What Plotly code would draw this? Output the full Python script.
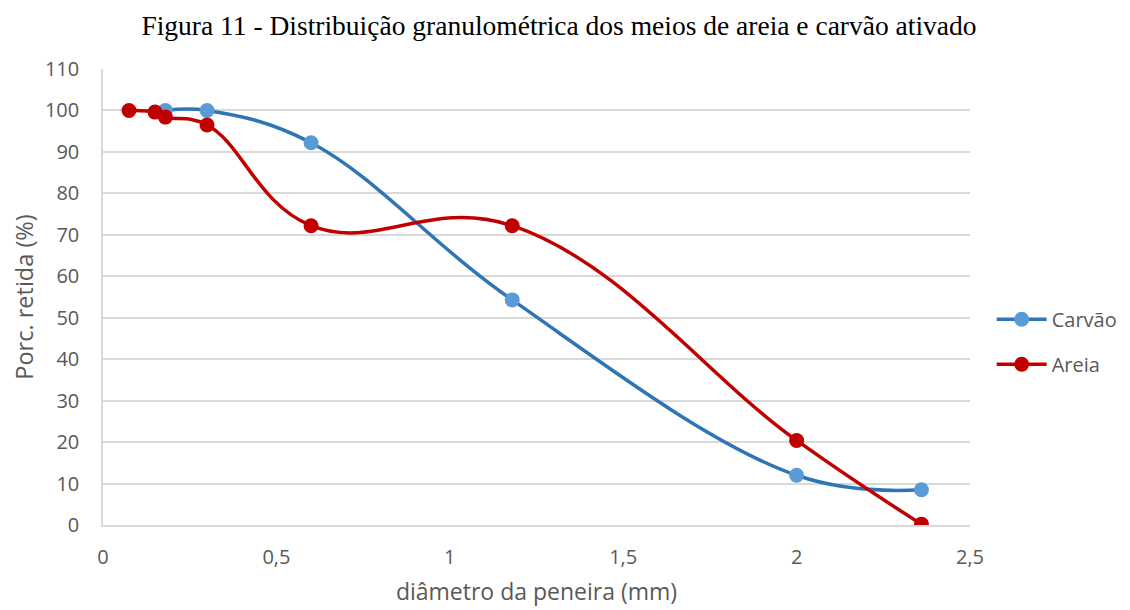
import plotly.graph_objects as go

carvao_x = [0.18, 0.30, 0.60, 1.18, 2.00, 2.36]
carvao_y = [100, 100, 92.2, 54.3, 12.0, 8.5]
areia_x = [0.075, 0.15, 0.18, 0.30, 0.60, 1.18, 2.00, 2.36]
areia_y = [100, 99.6, 98.4, 96.5, 72.2, 72.2, 20.4, 0.2]

x_ticks = [0, 0.5, 1, 1.5, 2, 2.5]
x_labels = ["0", "0,5", "1", "1,5", "2", "2,5"]
y_ticks = list(range(0, 111, 10))

fig = go.Figure()
fig.add_trace(go.Scatter(
    x=carvao_x, y=carvao_y, name="Carvão", mode="lines+markers",
    line=dict(color="#2E75B6", width=3.5, shape="spline", smoothing=1.1),
    marker=dict(color="#5B9BD5", size=15),
    legendgroup="a",
))
fig.add_trace(go.Scatter(
    x=areia_x, y=areia_y, name="Areia", mode="lines+markers",
    line=dict(color="#C00000", width=3.5, shape="spline", smoothing=1.2),
    marker=dict(color="#C00000", size=15),
    legendgroup="b",
))

fig.update_layout(
    width=1130, height=610,
    plot_bgcolor="white", paper_bgcolor="white",
    margin=dict(l=95, r=168, t=61, b=93),
    title=dict(text="Figura 11 - Distribuição granulométrica dos meios de areia e carvão ativado",
               x=0.4876, xanchor="center", y=0.972, yanchor="middle",
               font=dict(family="Liberation Serif", size=27.5, color="black")),
    font=dict(family="Open Sans", color="#595959", size=20),
    legend=dict(x=1.025, xanchor="left", y=0.402, yanchor="middle",
                tracegroupgap=16, itemwidth=50, font=dict(size=20, color="#595959"),
                bgcolor="rgba(0,0,0,0)"),
    xaxis=dict(range=[0, 2.5], tickvals=x_ticks, ticktext=x_labels,
               showgrid=False, zeroline=False, showline=True,
               linecolor="#d9d9d9", linewidth=1.5, ticks="",
               ticklabelstandoff=13, automargin=False,
               title=dict(text="diâmetro da peneira (mm)", font=dict(size=23), standoff=15),
               tickfont=dict(size=20)),
    yaxis=dict(range=[0, 110], tickvals=y_ticks, showgrid=True,
               gridcolor="#d9d9d9", gridwidth=1.5, zeroline=False,
               showline=True, linecolor="#d9d9d9", linewidth=1.5, ticks="",
               ticklabelstandoff=18, automargin=False,
               title=dict(text="Porc. retida (%)", font=dict(size=23.5), standoff=5),
               tickfont=dict(size=20)),
)

fig.write_html("out.html")
